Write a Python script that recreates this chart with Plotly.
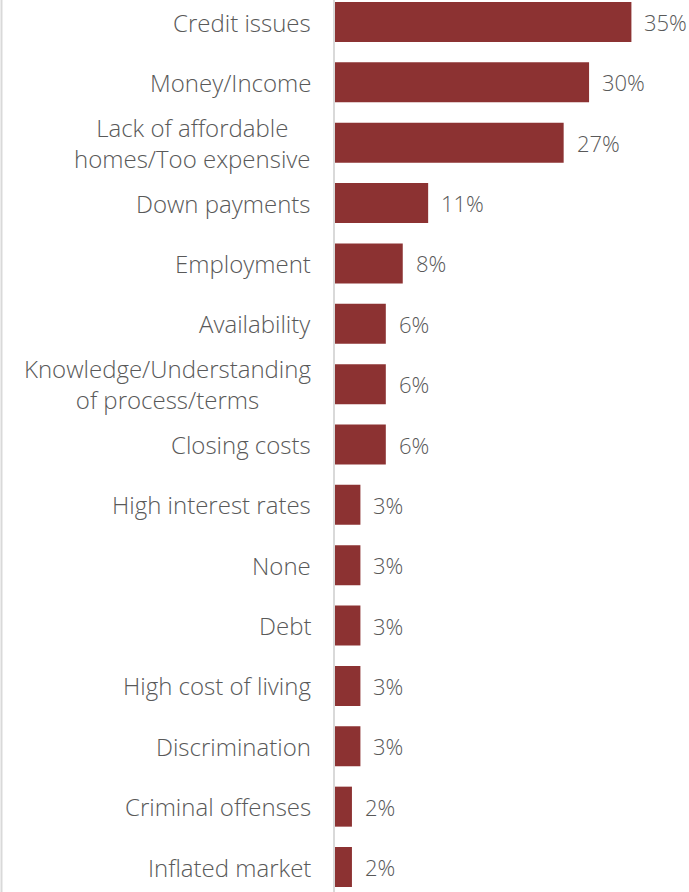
import plotly.graph_objects as go

# Barriers to home ownership, share of respondents (%)
categories = [
    "Credit issues",
    "Money/Income",
    "Lack of affordable<br>homes/Too expensive",
    "Down payments",
    "Employment",
    "Availability",
    "Knowledge/Understanding<br>of process/terms",
    "Closing costs",
    "High interest rates",
    "None",
    "Debt",
    "High cost of living",
    "Discrimination",
    "Criminal offenses",
    "Inflated market",
]
values = [35, 30, 27, 11, 8, 6, 6, 6, 3, 3, 3, 3, 3, 2, 2]
value_labels = [f"{v}%" for v in values]

BAR = "#8C3232"
TEXT = "#595959"
GRID = "#D9D9D9"
FONT = "Open Sans"
FSIZE = 24
VSIZE = 22

idx = list(range(len(categories)))

fig = go.Figure(
    go.Bar(
        x=values,
        y=idx,
        orientation="h",
        marker=dict(color=BAR, line=dict(width=0)),
        width=0.663,
        hoverinfo="skip",
    )
)

annotations = []
# Category labels, right-aligned against the axis, lines centred within each label
for i, cat in enumerate(categories):
    annotations.append(
        dict(
            x=0, xref="paper", y=i, yref="y",
            text=cat, showarrow=False,
            xanchor="right", yanchor="middle", align="center",
            xshift=-22,
            font=dict(family=FONT, size=FSIZE, color=TEXT, weight=300),
        )
    )
# Value labels at the end of each bar
for i, (v, lab) in enumerate(zip(values, value_labels)):
    annotations.append(
        dict(
            x=v, xref="x", y=i, yref="y",
            text=lab, showarrow=False,
            xanchor="left", yanchor="middle",
            xshift=11,
            font=dict(family=FONT, size=VSIZE, color=TEXT, weight=300),
        )
    )

fig.update_layout(
    width=689,
    height=892,
    margin=dict(l=335, r=0, t=0, b=0),
    paper_bgcolor="white",
    plot_bgcolor="white",
    showlegend=False,
    xaxis=dict(
        range=[0, 41.8],
        visible=False,
        fixedrange=True,
    ),
    yaxis=dict(
        range=[14.414, -0.3645],
        showticklabels=False,
        showgrid=False,
        zeroline=False,
        showline=True,
        linecolor=GRID,
        linewidth=2,
        ticks="",
        fixedrange=True,
    ),
    annotations=annotations,
    shapes=[
        dict(
            type="line", xref="paper", yref="paper",
            x0=-333.5 / 354, x1=-333.5 / 354, y0=0, y1=1,
            line=dict(color=GRID, width=2),
        )
    ],
)

fig.write_html("out.html", config={"displayModeBar": False})
